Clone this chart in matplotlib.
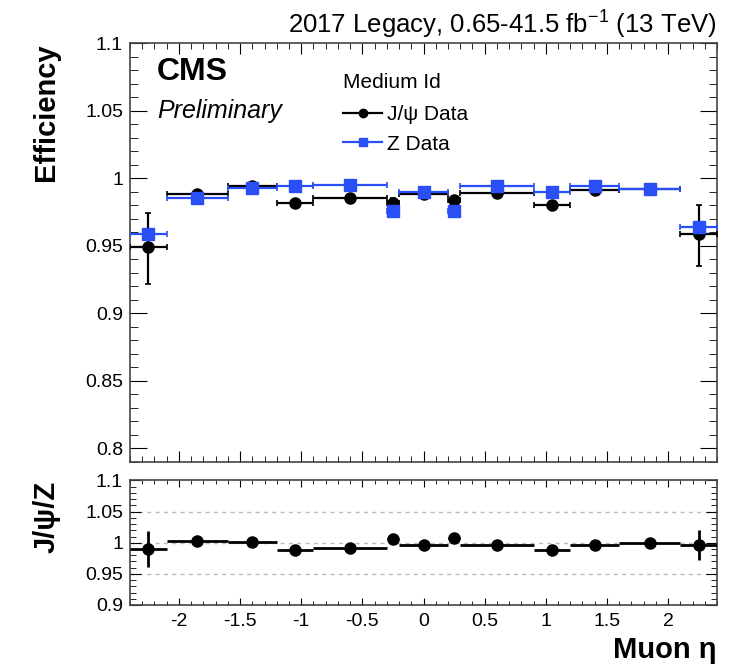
import numpy as np
import matplotlib
matplotlib.use("Agg")
import matplotlib.pyplot as plt
from matplotlib.ticker import MultipleLocator, FuncFormatter
from matplotlib.lines import Line2D

plt.rcParams["font.family"] = ["Liberation Sans", "DejaVu Sans"]
plt.rcParams["axes.unicode_minus"] = False
plt.rcParams["mathtext.fontset"] = "custom"
plt.rcParams["mathtext.rm"] = "Liberation Sans"

# eta binning
eta_edges = [-2.4, -2.1, -1.6, -1.2, -0.9, -0.3, -0.2, 0.2, 0.3, 0.9, 1.2, 1.6, 2.1, 2.4]

# J/psi data efficiency
jpsi_eff = [0.949, 0.988, 0.994, 0.982, 0.985, 0.982, 0.988, 0.984, 0.989, 0.980, 0.991, 0.992, 0.959]
jpsi_err_lo = [0.027, 0.002, 0.001, 0.002, 0.001, 0.003, 0.001, 0.003, 0.001, 0.002, 0.001, 0.001, 0.024]
jpsi_err_hi = [0.025, 0.002, 0.001, 0.002, 0.001, 0.003, 0.001, 0.003, 0.001, 0.002, 0.001, 0.001, 0.021]

# Z data efficiency
z_eff = [0.959, 0.985, 0.993, 0.994, 0.995, 0.976, 0.990, 0.976, 0.994, 0.990, 0.994, 0.992, 0.964]
z_err = [0.001, 0.001, 0.001, 0.001, 0.001, 0.002, 0.001, 0.002, 0.001, 0.001, 0.001, 0.001, 0.001]

# J/psi / Z ratio
ratio = [0.990, 1.003, 1.001, 0.989, 0.992, 1.006, 0.997, 1.008, 0.996, 0.989, 0.996, 1.000, 0.997]
ratio_err_lo = [0.029, 0.002, 0.001, 0.002, 0.001, 0.003, 0.001, 0.003, 0.001, 0.002, 0.001, 0.001, 0.024]
ratio_err_hi = [0.029, 0.002, 0.001, 0.002, 0.001, 0.003, 0.001, 0.003, 0.001, 0.002, 0.001, 0.001, 0.024]

edges = np.array(eta_edges)
centers = 0.5 * (edges[1:] + edges[:-1])
half_w = 0.5 * (edges[1:] - edges[:-1])

BLUE = "#2b4ff7"
fmt_g = FuncFormatter(lambda v, p: f"{v:g}")

fig = plt.figure(figsize=(7.35, 6.69), dpi=100)
ax1 = fig.add_axes([0.1769, 0.3099, 0.7986, 0.6254])
ax2 = fig.add_axes([0.1769, 0.0957, 0.7986, 0.1861])

# --- top panel ---
ax1.errorbar(centers, jpsi_eff, xerr=half_w, yerr=[jpsi_err_lo, jpsi_err_hi],
             fmt="o", color="black", ms=8, lw=1.6, capsize=2.5, capthick=1.2, zorder=3)
ax1.errorbar(centers, z_eff, xerr=half_w, yerr=z_err,
             fmt="s", color=BLUE, ms=8, lw=1.6, capsize=2.5, capthick=1.2, zorder=4)
ax1.set_xlim(-2.4, 2.4)
ax1.set_ylim(0.79, 1.1)
ax1.xaxis.set_major_locator(MultipleLocator(0.5))
ax1.xaxis.set_minor_locator(MultipleLocator(0.1))
ax1.yaxis.set_major_locator(MultipleLocator(0.05))
ax1.yaxis.set_minor_locator(MultipleLocator(0.01))
ax1.yaxis.set_major_formatter(fmt_g)
ax1.tick_params(axis="both", which="both", direction="in", top=True, right=True, labelsize=14)
ax1.tick_params(axis="y", which="major", length=12, pad=5)
ax1.tick_params(axis="y", which="minor", length=6)
ax1.tick_params(axis="x", which="major", length=8)
ax1.tick_params(axis="x", which="minor", length=4)
ax1.tick_params(axis="x", labelbottom=False)
ax1.set_ylabel("Efficiency", fontsize=21, fontweight="bold", loc="top")
ax1.yaxis.set_label_coords(-0.119, 1.0)

ax1.text(0.046, 0.912, "CMS", transform=ax1.transAxes, fontsize=23, fontweight="bold", va="baseline")
ax1.text(0.046, 0.821, "Preliminary", transform=ax1.transAxes, fontsize=18, style="italic", va="baseline")

ax1.text(0.3635, 0.893, "Medium Id", transform=ax1.transAxes, fontsize=15, va="baseline")
handles = [
    Line2D([], [], color="black", marker="o", ms=6, lw=1.6),
    Line2D([], [], color=BLUE, marker="s", ms=6, lw=1.6),
]
ax1.legend(handles, ["J/\u03c8 Data", "Z Data"], fontsize=15, loc="upper left",
           bbox_to_anchor=(0.3635, 0.852), frameon=False, borderpad=0, borderaxespad=0,
           handlelength=1.85, handletextpad=0.25, labelspacing=0.5)

fig.text(0.9755, 0.952, r"2017 Legacy, 0.65-41.5 fb$^{\mathregular{-1}}$ (13 TeV)",
         ha="right", va="baseline", fontsize=18.5)

# --- ratio panel ---
for g in [0.95, 1.0, 1.05]:
    ax2.axhline(g, color="#bbbbbb", lw=1, ls=(0, (3, 3)), zorder=1)
ax2.errorbar(centers, ratio, xerr=half_w, yerr=[ratio_err_lo, ratio_err_hi],
             fmt="o", color="black", ms=8, lw=2, capsize=0, zorder=3)
ax2.set_xlim(-2.4, 2.4)
ax2.set_ylim(0.9, 1.1)
ax2.xaxis.set_major_locator(MultipleLocator(0.5))
ax2.xaxis.set_minor_locator(MultipleLocator(0.1))
ax2.xaxis.set_major_formatter(fmt_g)
ax2.yaxis.set_major_locator(MultipleLocator(0.05))
ax2.yaxis.set_minor_locator(MultipleLocator(0.01))
ax2.yaxis.set_major_formatter(fmt_g)
ax2.tick_params(axis="both", which="both", direction="in", top=True, right=True, labelsize=14)
ax2.tick_params(axis="y", which="major", length=8, pad=5)
ax2.tick_params(axis="y", which="minor", length=4)
ax2.tick_params(axis="x", which="major", length=5, pad=6)
ax2.tick_params(axis="x", which="minor", length=3)
ax2.set_ylabel("J/\u03c8/Z", fontsize=21, fontweight="bold", loc="top")
ax2.yaxis.set_label_coords(-0.119, 1.0)
ax2.set_xlabel("Muon \u03b7", fontsize=21, fontweight="bold", loc="right")
ax2.xaxis.set_label_coords(1.0, -0.25)

for ax in (ax1, ax2):
    for s in ax.spines.values():
        s.set_linewidth(1.2)
        s.set_color("#444444")

fig.savefig("out.png", dpi=100)
